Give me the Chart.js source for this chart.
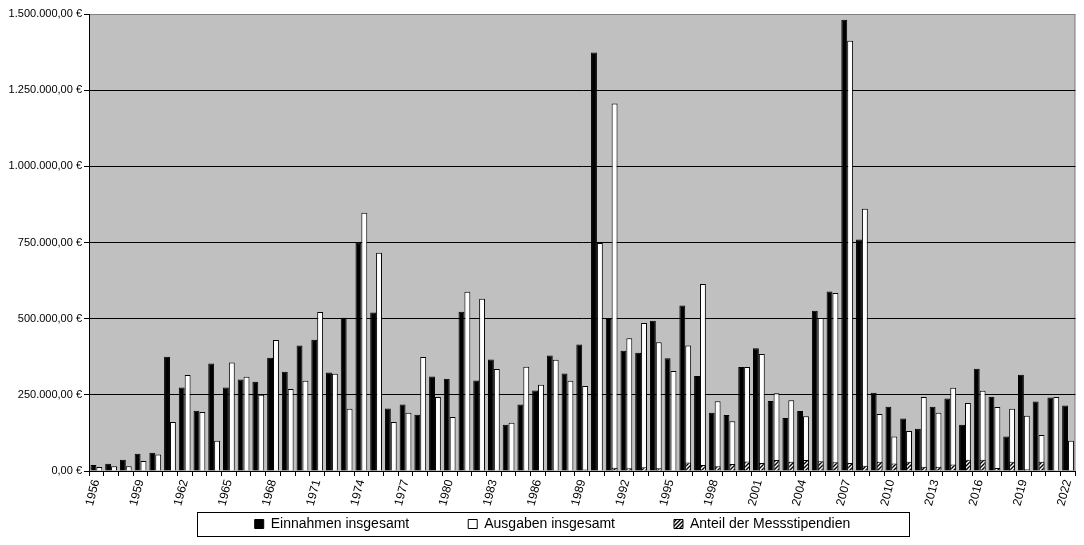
<!DOCTYPE html>
<html><head><meta charset="utf-8">
<script src="https://cdn.jsdelivr.net/npm/chart.js@4.4.0/dist/chart.umd.min.js"></script>
<style>html,body{margin:0;padding:0;background:#fff;}#wrap{width:1084px;height:545px;}</style>
</head><body><div id="wrap"><canvas id="c" width="1084" height="545"></canvas></div>
<script>
const years = ['1956','1957','1958','1959','1960','1961','1962','1963','1964','1965','1966','1967','1968','1969','1970','1971','1972','1973','1974','1975','1976','1977','1978','1979','1980','1981','1982','1983','1984','1985','1986','1987','1988','1989','1990','1991','1992','1993','1994','1995','1996','1997','1998','1999','2000','2001','2002','2003','2004','2005','2006','2007','2008','2009','2010','2011','2012','2013','2014','2015','2016','2017','2018','2019','2020','2021','2022'];
const einnahmen = [20000,24000,37000,57000,60000,375000,274000,198000,353000,274000,300000,293000,372000,326000,412000,431000,323000,503000,749000,520000,205000,218000,185000,310000,303000,523000,297000,366000,152000,218000,264000,379000,320000,415000,1374000,499000,395000,388000,493000,370000,543000,312000,191000,184000,341000,403000,230000,174000,197000,526000,589000,1481000,760000,257000,211000,172000,139000,211000,238000,152000,336000,244000,113000,316000,228000,241000,215000];
const ausgaben = [13000,16000,16000,33000,54000,161000,315000,194000,99000,356000,309000,250000,430000,269000,296000,522000,319000,204000,848000,716000,161000,191000,374000,243000,177000,588000,565000,335000,158000,342000,283000,365000,296000,279000,748000,1206000,436000,486000,423000,328000,412000,614000,229000,163000,341000,384000,255000,232000,180000,502000,584000,1412000,861000,187000,113000,131000,243000,191000,273000,223000,263000,210000,204000,181000,118000,243000,99000];
const messstipendien = [0,0,0,0,0,0,0,0,0,0,0,0,0,0,0,0,0,0,0,0,0,0,0,0,0,0,0,0,0,0,0,2000,0,5000,2000,11000,9000,12000,9000,2000,28000,20000,16000,23000,31000,26000,36000,30000,36000,32000,29000,26000,17000,30000,25000,30000,14000,14000,21000,37000,37000,10000,30000,6000,30000,2000,1000];
const xTickLabels = ['1956','1959','1962','1965','1968','1971','1974','1977','1980','1983','1986','1989','1992','1995','1998','2001','2004','2007','2010','2013','2016','2019','2022'];
const yMax = 1500000;
const yStep = 250000;
const seriesNames = ['Einnahmen insgesamt','Ausgaben insgesamt','Anteil der Messstipendien'];

const FONT = "'Liberation Sans', Arial, sans-serif";
Chart.defaults.font.family = FONT;
Chart.defaults.color = '#000';

function hatchPattern() {
  const c = document.createElement('canvas');
  c.width = 4; c.height = 4;
  const g = c.getContext('2d');
  g.fillStyle = '#fff'; g.fillRect(0, 0, 4, 4);
  g.strokeStyle = '#000'; g.lineWidth = 1.4;
  g.beginPath();
  g.moveTo(-1, 5); g.lineTo(5, -1);
  g.moveTo(-1, 1); g.lineTo(1, -1);
  g.moveTo(3, 5); g.lineTo(5, 3);
  g.stroke();
  return g.createPattern(c, 'repeat');
}

function fmtEuro(v) {
  const int = Math.round(v).toString().replace(/\B(?=(\d{3})+(?!\d))/g, '.');
  return int + ',00 €';
}

const plotBg = {
  id: 'plotBg',
  beforeDraw(chart) {
    const {ctx, chartArea: a} = chart;
    ctx.save();
    ctx.fillStyle = '#c0c0c0';
    ctx.fillRect(a.left, a.top, a.right - a.left, a.bottom - a.top);
    ctx.strokeStyle = '#808080';
    ctx.lineWidth = 1;
    ctx.strokeRect(a.left + 0.5, a.top + 0.5, a.right - a.left - 1, a.bottom - a.top);
    ctx.restore();
  }
};

// Place the legend row (centre line at y=524, shifted right like the original frame)
const LEGEND_CY = 524;
const LEGEND_DX = 14;
const legendPlace = {
  id: 'legendPlace',
  afterLayout(chart) {
    const lg = chart.legend;
    if (!lg) return;
    const pad = lg.options.labels.padding;
    const fs = lg.options.labels.font.size;
    lg.top = LEGEND_CY - pad - fs / 2;
    lg.bottom = chart.height;
    lg.height = lg.bottom - lg.top;
    lg.left += LEGEND_DX;
    lg.right += LEGEND_DX;
  }
};

const legendBox = {
  id: 'legendBox',
  afterDraw(chart) {
    const lg = chart.legend;
    if (!lg || !lg.legendHitBoxes || !lg.legendHitBoxes.length) return;
    const hb = lg.legendHitBoxes;
    let l = Infinity, r = -Infinity, t = Infinity, b = -Infinity;
    hb.forEach(h => { l = Math.min(l, h.left); r = Math.max(r, h.left + h.width); t = Math.min(t, h.top); b = Math.max(b, h.top + h.height); });
    const cy = (t + b) / 2;
    const ctx = chart.ctx;
    ctx.save();
    ctx.strokeStyle = '#000';
    ctx.lineWidth = 1;
    const x0 = Math.round(l - 58), x1 = Math.round(r + 59);
    ctx.strokeRect(x0 + 0.5, Math.round(cy - 12) + 0.5, x1 - x0, 24);
    ctx.restore();
  }
};

new Chart(document.getElementById('c'), {
  type: 'bar',
  data: {
    labels: years,
    datasets: [
      {label: seriesNames[0], data: einnahmen, backgroundColor: '#000', borderColor: '#000', borderWidth: 1, stack: 'a', order: 0},
      {label: seriesNames[1], data: ausgaben, backgroundColor: '#fff', borderColor: '#000', borderWidth: 1, stack: 'b', order: 2},
      {label: seriesNames[2], data: messstipendien, backgroundColor: hatchPattern(), borderColor: '#000', borderWidth: 1, stack: 'b', order: 1}
    ]
  },
  options: {
    responsive: false,
    animation: false,
    devicePixelRatio: 1,
    categoryPercentage: 0.8,
    barPercentage: 1.0,
    layout: {padding: {left: 0, right: 7, top: 14, bottom: 0}},
    plugins: {
      tooltip: {enabled: false},
      legend: {
        position: 'bottom',
        maxHeight: 33,
        labels: {
          boxWidth: 9, boxHeight: 9, padding: 59, font: {size: 14, family: FONT}, color: '#000',
          sort: (a, b) => a.datasetIndex - b.datasetIndex
        }
      }
    },
    scales: {
      x: {
        stacked: true,
        offset: true,
        grid: {offset: true, drawOnChartArea: false, drawTicks: true, tickLength: 5, color: '#000'},
        border: {color: '#000', width: 1},
        ticks: {
          autoSkip: false, minRotation: 75, maxRotation: 75, padding: 2,
          font: {size: 12, family: FONT}, color: '#000',
          callback: function(v, i) { const y = years[i]; return xTickLabels.includes(y) ? y : ''; }
        },
        afterFit: s => { s.height = 41; }
      },
      y: {
        stacked: false,
        min: 0, max: yMax,
        ticks: {stepSize: yStep, padding: 2, font: {size: 11, family: FONT}, color: '#000', callback: v => fmtEuro(v)},
        grid: {color: c => (c.tick && c.tick.value === yMax) ? '#808080' : '#000', tickColor: '#000', tickLength: 5, lineWidth: 1},
        border: {color: '#000', width: 1},
        afterFit: s => { s.width = 89; }
      }
    }
  },
  plugins: [plotBg, legendPlace, legendBox]
});
</script></body></html>
